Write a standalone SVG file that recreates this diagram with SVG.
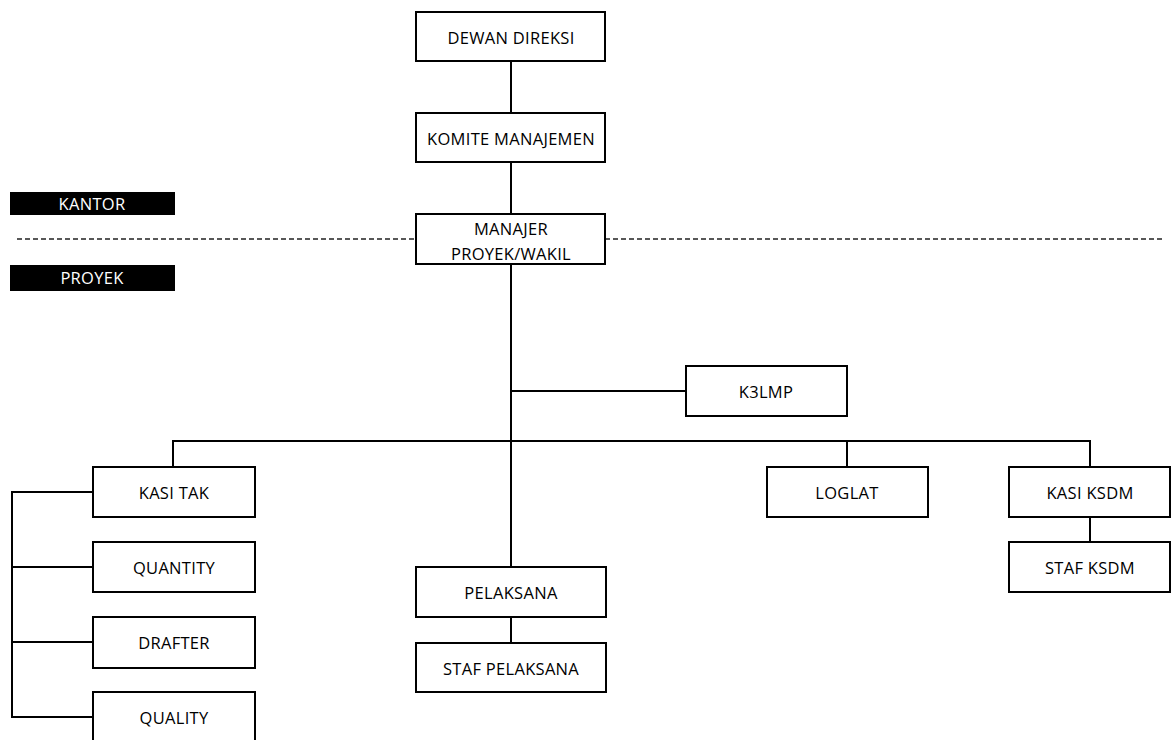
<svg xmlns="http://www.w3.org/2000/svg" width="1171" height="740" viewBox="0 0 1171 740">
<style>
.box{fill:#fff;stroke:#000;stroke-width:2}
.t{font-family:"Open Sans","Noto Sans",sans-serif;font-size:16.5px;letter-spacing:0.3px;fill:#000;text-anchor:middle;dominant-baseline:central}
.lbl{fill:#000}
.tw{font-family:"Open Sans","Noto Sans",sans-serif;font-size:16.5px;letter-spacing:0.3px;fill:#fff;text-anchor:middle;dominant-baseline:central}
.c{stroke:#000;stroke-width:2;fill:none}
.d{stroke:#222;stroke-width:1.3;stroke-dasharray:5 3;fill:none}
</style>
<rect width="1171" height="740" fill="#fff"/>
<g id="connectors">
<line class="d" x1="17" y1="239" x2="416" y2="239"/>
<line class="d" x1="605" y1="239" x2="1162" y2="239"/>
<line class="c" x1="511" y1="61" x2="511" y2="113"/>
<line class="c" x1="511" y1="162" x2="511" y2="214"/>
<line class="c" x1="511" y1="264" x2="511" y2="567"/>
<line class="c" x1="511" y1="391" x2="686" y2="391"/>
<polyline class="c" points="173,467 173,441 1090,441 1090,467"/>
<line class="c" x1="847" y1="441" x2="847" y2="467"/>
<line class="c" x1="1090" y1="517" x2="1090" y2="542"/>
<line class="c" x1="511" y1="617" x2="511" y2="643"/>
<polyline class="c" points="93,492 12,492 12,717 93,717"/>
<line class="c" x1="12" y1="567" x2="93" y2="567"/>
<line class="c" x1="12" y1="642" x2="93" y2="642"/>
</g>
<g id="kantor"><rect class="lbl" x="10" y="192" width="165" height="23"/><text class="tw" x="92" y="203">KANTOR</text></g>
<g id="proyek"><rect class="lbl" x="10" y="265" width="165" height="26"/><text class="tw" x="92" y="277">PROYEK</text></g>
<g id="dewan"><rect class="box" x="416" y="12" width="189" height="49"/><text class="t" x="511" y="37">DEWAN DIREKSI</text></g>
<g id="komite"><rect class="box" x="416" y="113" width="189" height="49"/><text class="t" x="511" y="138">KOMITE MANAJEMEN</text></g>
<g id="manajer"><rect class="box" x="416" y="214" width="189" height="50"/><text class="t" x="511" y="228">MANAJER</text><text class="t" x="511" y="253">PROYEK/WAKIL</text></g>
<g id="k3lmp"><rect class="box" x="686" y="366" width="161" height="50"/><text class="t" x="766" y="391">K3LMP</text></g>
<g id="kasitak"><rect class="box" x="93" y="467" width="162" height="50"/><text class="t" x="174" y="492">KASI TAK</text></g>
<g id="quantity"><rect class="box" x="93" y="542" width="162" height="50"/><text class="t" x="174" y="567">QUANTITY</text></g>
<g id="drafter"><rect class="box" x="93" y="617" width="162" height="51"/><text class="t" x="174" y="642">DRAFTER</text></g>
<g id="quality"><rect class="box" x="93" y="692" width="162" height="60"/><text class="t" x="174" y="717">QUALITY</text></g>
<g id="loglat"><rect class="box" x="767" y="467" width="161" height="50"/><text class="t" x="847" y="492">LOGLAT</text></g>
<g id="kasiksdm"><rect class="box" x="1009" y="467" width="161" height="50"/><text class="t" x="1090" y="492">KASI KSDM</text></g>
<g id="stafksdm"><rect class="box" x="1009" y="542" width="161" height="50"/><text class="t" x="1090" y="567">STAF KSDM</text></g>
<g id="pelaksana"><rect class="box" x="416" y="567" width="190" height="50"/><text class="t" x="511" y="592">PELAKSANA</text></g>
<g id="stafpelaksana"><rect class="box" x="416" y="643" width="190" height="49"/><text class="t" x="511" y="668">STAF PELAKSANA</text></g>
</svg>
